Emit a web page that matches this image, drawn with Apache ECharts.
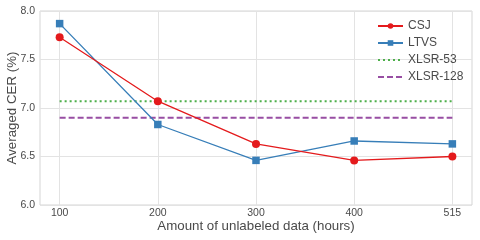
<!DOCTYPE html>
<html><head><meta charset="utf-8">
<script src="https://cdn.jsdelivr.net/npm/echarts@6/dist/echarts.min.js"></script>
<style>html,body{margin:0;padding:0;background:#fff}#c{width:480px;height:240px}</style>
</head><body><div id="c"></div>
<script>
var categories = ['100', '200', '300', '400', '515'];
var csj = [7.73, 7.07, 6.63, 6.46, 6.50];
var ltvs = [7.87, 6.83, 6.46, 6.66, 6.63];
var xlsr53 = 7.07;
var xlsr128 = 6.90;
var yTicks = [6.0, 6.5, 7.0, 7.5, 8.0];

var idx = categories.map(function (c, i) { return i; });
function pts(arr) { return arr.map(function (v, i) { return [i, v]; }); }
function flat(v) { return [[0, v], [categories.length - 1, v]]; }

var font = 'Liberation Sans, Arial, sans-serif';
var txt = '#4a4a4a';
var chart = echarts.init(document.getElementById('c'), null, {renderer: 'canvas'});
chart.setOption({
  animation: false,
  backgroundColor: '#fff',
  grid: {left: 40, right: 8, top: 11, bottom: 35, show: true, borderColor: '#d5d5d5', borderWidth: 1,
    containLabel: false, outerBoundsMode: 'none'},
  xAxis: {
    type: 'value', min: -0.2, max: categories.length - 0.8,
    name: 'Amount of unlabeled data (hours)', nameLocation: 'middle', nameGap: 15, nameMoveOverlap: false,
    nameTextStyle: {fontFamily: font, fontSize: 13.3, color: txt},
    axisLine: {show: false},
    axisTick: {show: false, customValues: idx},
    axisLabel: {customValues: idx, fontFamily: font, fontSize: 10.5, color: txt, margin: 3,
      formatter: function (v) { return categories[Math.round(v)]; }},
    splitLine: {show: true, lineStyle: {color: '#e3e3e3', width: 1}}
  },
  yAxis: {
    type: 'value', min: yTicks[0], max: yTicks[yTicks.length - 1], interval: 0.5,
    name: 'Averaged CER (%)', nameLocation: 'middle', nameGap: 21, nameMoveOverlap: false,
    nameTextStyle: {fontFamily: font, fontSize: 13.3, color: txt},
    axisLine: {show: false}, axisTick: {show: false},
    axisLabel: {fontFamily: font, fontSize: 10.5, color: txt, margin: 5,
      formatter: function (v) { return v.toFixed(1); }},
    splitLine: {show: true, lineStyle: {color: '#e3e3e3', width: 1}}
  },
  legend: {
    orient: 'vertical', left: 372, top: 15, itemWidth: 25, itemHeight: 7, itemGap: 5,
    textStyle: {fontFamily: font, fontSize: 12, color: txt},
    data: ['CSJ', 'LTVS',
      {name: 'XLSR-53', itemStyle: {opacity: 0}},
      {name: 'XLSR-128', itemStyle: {opacity: 0}}]
  },
  series: [
    {name: 'CSJ', type: 'line', data: pts(csj), symbol: 'circle', symbolSize: 8,
      color: '#e41a1c', lineStyle: {width: 1.3, color: '#e41a1c'}, itemStyle: {color: '#e41a1c'}, z: 4},
    {name: 'LTVS', type: 'line', data: pts(ltvs), symbol: 'rect', symbolSize: 7.5,
      color: '#377eb8', lineStyle: {width: 1.3, color: '#377eb8'}, itemStyle: {color: '#377eb8'}, z: 3},
    {name: 'XLSR-53', type: 'line', data: flat(xlsr53), symbol: 'none',
      color: '#4daf4a', lineStyle: {width: 2, type: [2, 3], color: '#4daf4a'}, z: 2},
    {name: 'XLSR-128', type: 'line', data: flat(xlsr128), symbol: 'none',
      color: '#984ea3', lineStyle: {width: 2, type: [6, 3], color: '#984ea3'}, z: 2}
  ]
});
</script></body></html>
